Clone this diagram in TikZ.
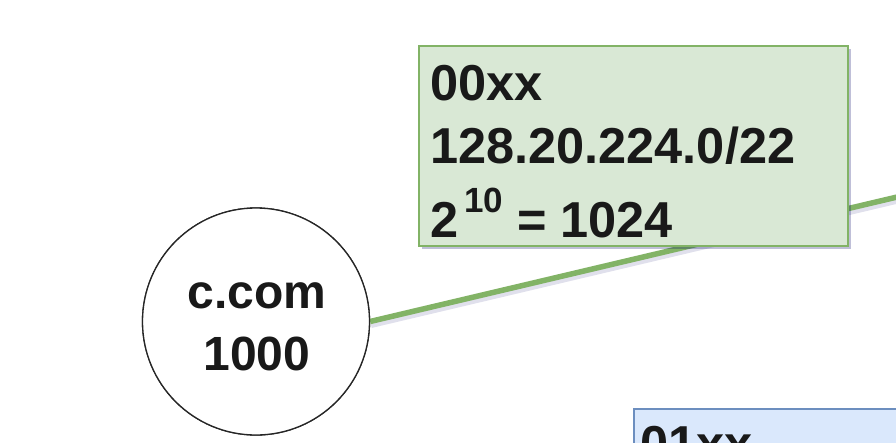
\documentclass[tikz,border=0pt]{standalone}
\usepackage{fontspec}
\setmainfont{Liberation Sans}
\usetikzlibrary{shadows}
\definecolor{gfill}{HTML}{D9E8D5}
\definecolor{gdraw}{HTML}{82B366}
\definecolor{bfill}{HTML}{DAE8FC}
\definecolor{bdraw}{HTML}{6C8EBF}
\begin{document}
\begin{tikzpicture}[x=1pt,y=-1pt,
  boxtxt/.style={font=\fontsize{50.5}{50.5}\selectfont\bfseries, inner sep=0pt, anchor=base west, text=black!90},
  circtxt/.style={font=\fontsize{48}{48}\selectfont\bfseries, inner sep=0pt, anchor=base, text=black!90},
  myshadow/.style={drop shadow={shadow xshift=3pt, shadow yshift=-3pt, opacity=0.25, fill=black!60!blue}},
  greenbox/.style={rectangle, fill=gfill, draw=gdraw, line width=1.5pt, inner sep=0pt, anchor=north west, myshadow},
  bluebox/.style={rectangle, fill=bfill, draw=bdraw, line width=1.5pt, inner sep=0pt, anchor=north west, myshadow},
  link/.style={draw=gdraw, line width=5.5pt},
  linkshadow/.style={draw=black!60!blue, opacity=0.12, line width=5pt}]
\useasboundingbox (0,0) rectangle (896,442);
\clip (0,0) rectangle (896,442);
\fill[white] (0,0) rectangle (896,442);

% circle node
\node[circle, draw=black!85, line width=1.3pt, fill=white, minimum size=227pt, inner sep=0pt] (c) at (256,321.5) {};
\coordinate (e) at (1000,172.7);

% connector
\draw[linkshadow] ([shift={(1,4)}]c.east) -- ([shift={(1,4)}]e);
\draw[link] (c.east) -- (e);

% redraw circle over connector
\node[circle, draw=black!85, line width=1.3pt, fill=white, minimum size=227pt, inner sep=0pt] (c2) at (256,321.5) {};
\node[circtxt] (c1) at (257,308) {c.com};
\node[circtxt] (c3) at (257,370) {1000};

% green box
\node[greenbox, minimum width=429pt, minimum height=200pt] (g) at (418,45) {};
\node[boxtxt] (g1) at (430,100) {00xx};
\node[boxtxt] (g2) at (430,163) {128.20.224.0/22};
\node[boxtxt] (g3) at (430,237) {2\hspace{6pt}\raisebox{25pt}{\fontsize{35}{35}\selectfont\bfseries 10} = 1024};

% blue box
\node[bluebox, minimum width=420pt, minimum height=200pt] (b) at (633,408) {};
\node[boxtxt] (b1) at (640,461) {01xx};
\end{tikzpicture}
\end{document}
